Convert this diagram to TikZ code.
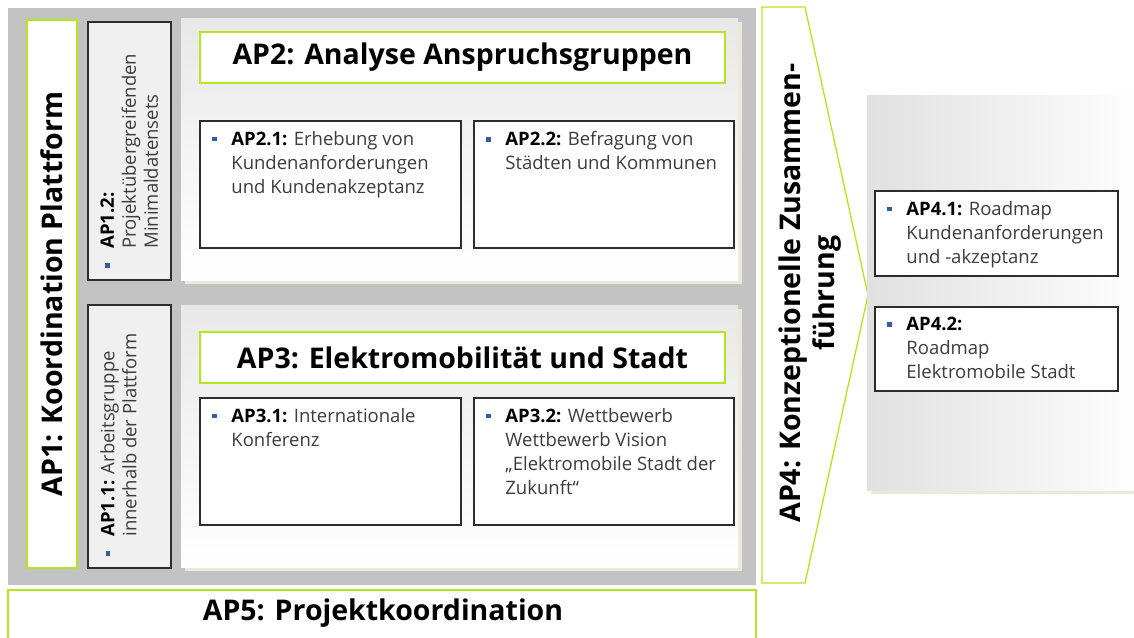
\documentclass[tikz,border=0pt]{standalone}
\usepackage{fontspec}
\setmainfont{Open Sans}
\usetikzlibrary{fit,shadows}

\definecolor{framegray}{RGB}{195,195,195}
\definecolor{lime}{RGB}{180,230,30}
\definecolor{boxline}{RGB}{45,45,45}
\definecolor{bulblue}{RGB}{50,95,160}
\definecolor{shadowbeige}{RGB}{236,233,216}
\definecolor{sidegray}{RGB}{240,240,240}
\definecolor{bodytext}{RGB}{60,60,60}

\newcommand{\bul}{\makebox[19pt][l]{\textcolor{bulblue}{\rule[4pt]{4.5pt}{4.5pt}}}}
\newcommand{\ind}{\hspace*{19pt}}
\newcommand{\lab}[1]{\textcolor{black}{\bfseries #1}}

\tikzset{
	framebox/.style={fill=framegray, inner sep=0pt},
	limebox/.style={draw=lime, line width=1.3pt, fill=white, inner sep=0pt},
	panel/.style={top color=black!9, bottom color=white, inner sep=0pt,
		general shadow={fill=shadowbeige, shadow xshift=4pt, shadow yshift=-4pt}},
	wpbox/.style={draw=boxline, line width=1.6pt, fill=white, inner sep=0pt},
	sidebox/.style={wpbox, fill=sidegray},
	titletext/.style={font=\fontsize{28.5}{34}\selectfont\bfseries, align=center, inner sep=0pt},
	wptext/.style={font=\fontsize{18.5}{24}\selectfont, text=bodytext, align=left, inner sep=0pt, anchor=north west},
	sidetext/.style={font=\fontsize{18.5}{22}\selectfont, text=bodytext, align=left, inner sep=0pt, anchor=north west, rotate=90}
}

\begin{document}
\begin{tikzpicture}[x=1pt,y=-1pt]
	\useasboundingbox (0,0) rectangle (1134,637);
	\clip (0,0) rectangle (1134,637);
	\fill[white] (0,0) rectangle (1134,637);

	\node[framebox, fit={(8,8) (756,585)}] (frame) {};
	\node[limebox, fit={(27,20) (77,568)}] (ap1) {};
	\node[titletext, rotate=90] (ap1t) at (ap1.center) {AP1: Koordination Plattform};

	\node[sidebox, fit={(88,22) (171,280)}] (ap12) {};
	\node[sidetext] (ap12t) at ([xshift=13pt,yshift=13pt]ap12.south west) {\bul\lab{AP1.2:}\\\ind Projektübergreifenden\\\ind Minimaldatensets};
	\node[sidebox, fit={(88,305) (171,568)}] (ap11) {};
	\node[sidetext] (ap11t) at ([xshift=13pt,yshift=13pt]ap11.south west) {\bul\lab{AP1.1:} Arbeitsgruppe\\\ind innerhalb der Plattform};

	\node[panel, fit={(181,18) (738,280)}] (ap2) {};
	\node[limebox, fit={(200,32) (725,83)}] (ap2h) {};
	\node[titletext] (ap2t) at (ap2h.center) {AP2: Analyse Anspruchsgruppen};
	\node[wpbox, fit={(200,121) (461,248)}] (ap21) {};
	\node[wptext] (ap21t) at ([xshift=13pt,yshift=-11pt]ap21.north west) {\bul\lab{AP2.1:} Erhebung von\\\ind Kundenanforderungen\\\ind und Kundenakzeptanz};
	\node[wpbox, fit={(474,121) (734,248)}] (ap22) {};
	\node[wptext] (ap22t) at ([xshift=13pt,yshift=-11pt]ap22.north west) {\bul\lab{AP2.2:} Befragung von\\\ind Städten und Kommunen};

	\node[panel, fit={(181,305) (738,567)}] (ap3) {};
	\node[limebox, fit={(200,332) (725,383)}] (ap3h) {};
	\node[titletext] (ap3t) at (ap3h.center) {AP3: Elektromobilität und Stadt};
	\node[wpbox, fit={(200,398) (461,525)}] (ap31) {};
	\node[wptext] (ap31t) at ([xshift=13pt,yshift=-11pt]ap31.north west) {\bul\lab{AP3.1:} Internationale\\\ind Konferenz};
	\node[wpbox, fit={(474,398) (734,525)}] (ap32) {};
	\node[wptext] (ap32t) at ([xshift=13pt,yshift=-11pt]ap32.north west) {\bul\lab{AP3.2:} Wettbewerb\\\ind Wettbewerb Vision\\\ind „Elektromobile Stadt der\\\ind Zukunft“};

	\node[limebox, fit={(8,590) (756,660)}] (ap5) {};
	\node[titletext] (ap5t) at (383,613) {AP5: Projektkoordination};

	\draw[draw=lime, line width=1.3pt, fill=white] (762,7) -- (805,7) -- (868,295) -- (805,583) -- (762,583) -- cycle;
	\node[titletext, rotate=90] (ap4t) at (810,293) {AP4: Konzeptionelle Zusammen-\\führung};

	\node[panel, left color=black!12, right color=white, fit={(867,95) (1150,490)}] (ap4) {};
	\node[wpbox, fit={(875,191) (1118,276)}] (ap41) {};
	\node[wptext] (ap41t) at ([xshift=13pt,yshift=-11pt]ap41.north west) {\bul\lab{AP4.1:} Roadmap\\\ind Kundenanforderungen\\\ind und -akzeptanz};
	\node[wpbox, fit={(875,307) (1118,391)}] (ap42) {};
	\node[wptext] (ap42t) at ([xshift=13pt,yshift=-11pt]ap42.north west) {\bul\lab{AP4.2:}\\\ind Roadmap\\\ind Elektromobile Stadt};
\end{tikzpicture}
\end{document}
